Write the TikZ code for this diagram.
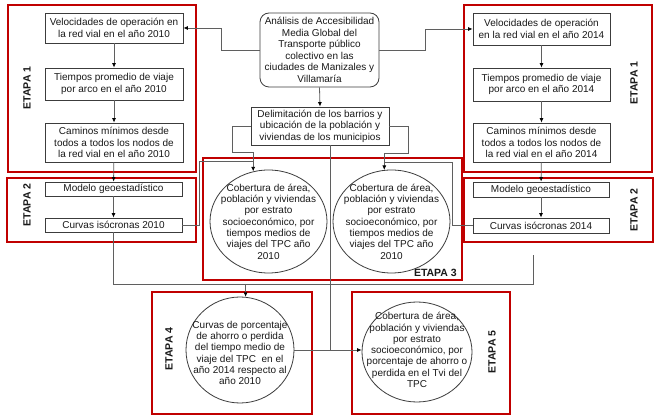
\documentclass[tikz,border=0pt]{standalone}
\usepackage{fontspec}
\setmainfont{Liberation Sans}
\usetikzlibrary{arrows.meta,shapes.geometric}
\definecolor{frred}{RGB}{192,0,0}
\definecolor{lc}{RGB}{95,95,95}
\definecolor{bc}{RGB}{60,60,60}
\definecolor{tc}{RGB}{25,25,25}
\begin{document}
\begin{tikzpicture}[x=1pt,y=-1pt,
 box/.style={draw=bc,line width=0.8pt,inner sep=0pt,align=center,text=tc,font=\fontsize{10}{11.5}\selectfont},
 ell/.style={draw=bc,line width=0.8pt,ellipse,inner sep=0pt},
 etxt/.style={align=center,text=tc,inner sep=0pt,font=\fontsize{10}{11.3}\selectfont},
 frame/.style={draw=frred,line width=1.8pt},
 etapa/.style={font=\fontsize{10.5}{12}\selectfont\bfseries,text=tc,inner sep=0pt},
 conn/.style={draw=lc,line width=0.8pt},
 arr/.style={conn,-{Latex[length=4.5pt,width=4pt,color=black]}},
]
\fill[white] (0,0) rectangle (656,419);
\useasboundingbox (0,0) rectangle (656,419);

% red stage frames
\draw[frame] (8,5) rectangle (196,172);
\draw[frame] (7,178) rectangle (196,242);
\draw[frame] (464,5) rectangle (652,172);
\draw[frame] (464,178) rectangle (653,242);
\draw[frame] (203,158) rectangle (462,280);
\draw[frame] (152,292) rectangle (312,414);
\draw[frame] (352,292) rectangle (510,414);

% stage labels
\node[etapa,rotate=90] (l1) at (27,88) {ETAPA 1};
\node[etapa,rotate=90] (l2) at (27,205) {ETAPA 2};
\node[etapa,rotate=90] (r1) at (634,83) {ETAPA 1};
\node[etapa,rotate=90] (r2) at (634,210) {ETAPA 2};
\node[etapa,anchor=east] (l3) at (457,272.5) {ETAPA 3};
\node[etapa,rotate=90] (l4) at (169,349) {ETAPA 4};
\node[etapa,rotate=90] (l5) at (492,352) {ETAPA 5};

% top boxes
\node[box,rounded corners=9pt,minimum width=119,minimum height=74] (top) at (319.5,50)
 {Análisis de Accesibilidad\\Media Global del\\Transporte público\\colectivo en las\\ciudades de Manizales y\\Villamaría};
\node[box,minimum width=138,minimum height=38] (delim) at (320,126)
 {Delimitación de los barrios y\\ubicación de la población y\\viviendas de los municipios};

% left column (2010)
\node[box,minimum width=138,minimum height=30] (v1) at (114,28) {Velocidades de operación en\\la red vial en el año 2010};
\node[box,minimum width=138,minimum height=32] (t1) at (114,84) {Tiempos promedio de viaje\\por arco en el año 2010};
\node[box,minimum width=138,minimum height=39] (c1) at (114,142.5) {Caminos mínimos desde\\todos a todos los nodos de\\la red vial en el año 2010};
\node[box,minimum width=137,minimum height=14] (m1) at (113.5,189) {Modelo geoestadístico};
\node[box,minimum width=137,minimum height=14] (cu1) at (113.5,225) {Curvas isócronas 2010};

% right column (2014)
\node[box,minimum width=137,minimum height=32] (v2) at (541.5,29) {Velocidades de operación\\en la red vial en el año 2014};
\node[box,minimum width=137,minimum height=33] (t2) at (541.5,84.5) {Tiempos promedio de viaje\\por arco en el año 2014};
\node[box,minimum width=137,minimum height=39] (c2) at (541.5,142.5) {Caminos mínimos desde\\todos a todos los nodos de\\la red vial en el año 2014};
\node[box,minimum width=136,minimum height=15] (m2) at (541,189.5) {Modelo geoestadístico};
\node[box,minimum width=136,minimum height=15] (cu2) at (541,225.5) {Curvas isócronas 2014};

% ellipses
\node[ell,minimum width=117,minimum height=103] (e1) at (268.5,221.5) {};
\node[etxt] (e1t) at (e1.center) {Cobertura de área,\\población y viviendas\\por estrato\\socioeconómico, por\\tiempos medios de\\viajes del TPC año\\2010};
\node[ell,minimum width=117,minimum height=103] (e2) at (391.5,221.5) {};
\node[etxt] (e2t) at (e2.center) {Cobertura de área,\\población y viviendas\\por estrato\\socioeconómico, por\\tiempos medios de\\viajes del TPC año\\2010};
\node[ell,minimum width=108,minimum height=106] (e4) at (240,350) {};
\node[etxt] (e4t) at (240,353) {Curvas de porcentaje\\de ahorro o perdida\\del tiempo medio de\\viaje del TPC \ en el\\año 2014 respecto al\\año 2010};
\node[ell,minimum width=110,minimum height=100] (e5) at (417,352) {};
\node[etxt] (e5t) at (417,350) {Cobertura de área,\\población y viviendas\\por estrato\\socioeconómico, por\\porcentaje de ahorro o\\perdida en el Tvi del\\TPC};

% helper coordinates
\coordinate (jl) at (232,152);
\coordinate (jr) at (408,153);
\coordinate (kl) at (199,161);
\coordinate (kr) at (452,162);
\coordinate (hb) at (533,284);
\coordinate (hend) at (533,255);
\coordinate (dv) at (330,0);

% connectors
\draw[arr] (top.west) -- ++(-38,0) |- (v1.east);
\draw[arr] (top.east) -- ++(46,0) |- (v2.west);
\draw[arr] (top.south) -- (delim.north);

\draw[arr] (v1) -- (t1);
\draw[arr] (t1) -- (c1);
\draw[arr] (c1) -- (m1);
\draw[arr] (m1) -- (cu1);
\draw[arr] (v2) -- (t2);
\draw[arr] (t2) -- (c2);
\draw[arr] (c2) -- (m2);
\draw[arr] (m2) -- (cu2);

\draw[arr] (delim.west) -| (jl) -| (e1.107);
\draw[arr] (delim.east) -| (jr) -| (e2.98);
\draw[conn] (cu1.east) -| (kl) -- (kl -| e1.107);
\draw[conn] (cu2.west) -| (kr) -- (kr -| e2.98);

\draw[conn] (cu1.south) |- (hb) -- (hend);
\draw[arr] (e4.84 |- hb) -- (e4.84);

\draw[arr] (e4.east) -- (e4.east -| e5.west);
\draw[conn] (delim.south -| dv) -- (dv |- e4.east);
\end{tikzpicture}
\end{document}
